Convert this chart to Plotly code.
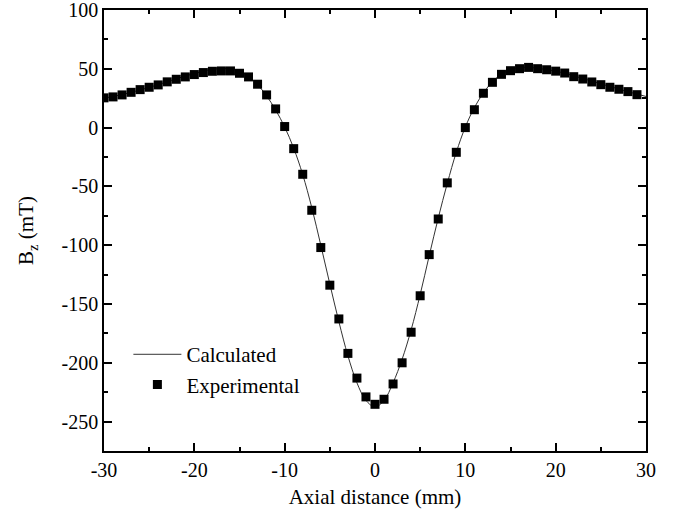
import plotly.graph_objects as go

# Experimental data (mm, mT)
exp_x = list(range(-30, 30))
exp_y = [25.3, 26.1, 27.8, 30.0, 32.3, 34.3, 36.3, 38.9, 41.1, 43.1,
         45.1, 46.8, 47.9, 48.2, 48.2, 46.2, 43.1, 36.9, 27.8, 15.9,
         0.9, -17.9, -39.7, -70.3, -102.0, -134.0, -162.7, -192.0, -213.0, -229.0,
         -235.3, -231.0, -218.0, -200.0, -174.0, -143.0, -108.0, -77.7, -47.0, -21.0,
         0.0, 15.2, 29.2, 38.5, 45.3, 48.4, 50.1, 51.2, 50.1, 49.2,
         48.0, 46.4, 43.3, 41.3, 38.8, 36.5, 34.3, 32.6, 30.6, 28.0]

# Calculated curve (mm, mT)
calc_x = list(range(-30, 31))
calc_y = [25.0, 26.5, 28.0, 30.0, 32.0, 34.2, 36.5, 39.0, 41.5, 43.8,
          46.0, 48.0, 49.5, 50.2, 50.0, 48.0, 43.5, 36.5, 27.0, 15.0,
          0.5, -17.5, -40.0, -68.0, -100.0, -133.0, -165.0, -194.0, -217.0, -232.0,
          -237.5, -232.0, -217.0, -197.0, -172.0, -142.0, -109.0, -77.0, -47.5, -21.0,
          0.5, 17.0, 29.5, 39.0, 45.5, 49.3, 51.0, 51.2, 50.5, 49.3,
          48.0, 46.3, 44.0, 41.8, 39.5, 37.2, 35.0, 32.8, 30.5, 28.5, 26.5]

x_ticks = [-30, -20, -10, 0, 10, 20, 30]
x_labels = ["-30", "-20", "-10", "0", "10", "20", "30"]
y_ticks = [-250, -200, -150, -100, -50, 0, 50, 100]
y_labels = ["-250", "-200", "-150", "-100", "-50", "0", "50", "100"]

FONT = "Liberation Serif"

fig = go.Figure()
fig.add_trace(go.Scatter(x=calc_x, y=calc_y, mode="lines", name="Calculated",
                         line=dict(color="#333333", width=1, shape="spline")))
fig.add_trace(go.Scatter(x=exp_x, y=exp_y, mode="markers", name="Experimental",
                         marker=dict(symbol="square", size=9, color="black")))

axis_common = dict(showline=True, linecolor="black", linewidth=1.5, mirror="ticks",
                   ticks="inside", ticklen=8, tickwidth=1.5, tickcolor="black",
                   showgrid=False, zeroline=False, automargin=False,
                   ticklabeloverflow="allow",
                   tickfont=dict(family=FONT, size=20, color="black"))

fig.update_xaxes(range=[-30, 30], tickvals=x_ticks, ticktext=x_labels,
                 minor=dict(ticks="inside", dtick=5, ticklen=4, tickwidth=1.5, tickcolor="black"),
                 title=dict(text="Axial distance (mm)", font=dict(family=FONT, size=21, color="black"),
                            standoff=10),
                 **axis_common)
fig.update_yaxes(range=[-275, 100], tickvals=y_ticks, ticktext=y_labels,
                 minor=dict(ticks="inside", dtick=25, ticklen=4, tickwidth=1.5, tickcolor="black"),
                 title=dict(text="B<sub>z</sub> (mT)", font=dict(family=FONT, size=21, color="black"),
                            standoff=22),
                 **axis_common)

fig.update_layout(
    width=674, height=517,
    margin=dict(l=104, r=28, t=10, b=66, autoexpand=False),
    paper_bgcolor="white", plot_bgcolor="white",
    font=dict(family=FONT, size=20, color="black"),
    legend=dict(x=0.045, y=0.265, xanchor="left", yanchor="top",
                bgcolor="rgba(0,0,0,0)", font=dict(family=FONT, size=21, color="black"),
                tracegroupgap=0, itemwidth=48),
    showlegend=True,
)

fig.write_html("out.html", config={"displayModeBar": False},
               post_script="document.body.style.margin='0';")
